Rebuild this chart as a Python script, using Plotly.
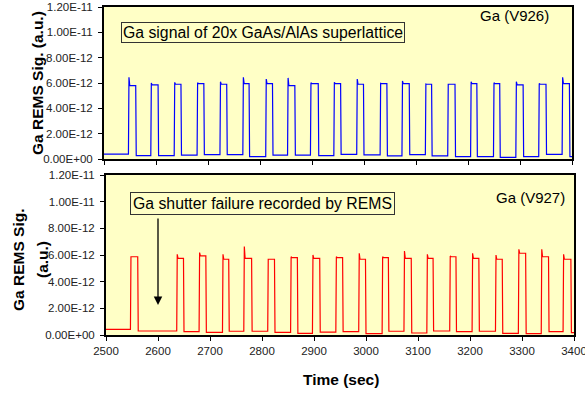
import plotly.graph_objects as go

# ---------------- data (values in units of 1e-12) -------------
top_rise = [2547, 2590, 2635, 2679, 2723, 2767, 2811, 2853, 2897, 2942,
            2986, 3031, 3073, 3118, 3161, 3205, 3249, 3292, 3336, 3381]
top_fall = [2561, 2604, 2648, 2692, 2736, 2779, 2824, 2867, 2912, 2955,
            2999, 3044, 3087, 3130, 3175, 3217, 3261, 3306, 3350, 3395]
top_start = [6.45, 6.00, 6.05, 6.02, 6.10, 6.45, 6.31, 6.40, 6.02, 6.05,
             6.31, 5.97, 6.16, 5.92, 5.90, 6.10, 6.02, 6.10, 5.97, 6.45]
top_end = [5.80, 5.85, 5.90, 5.95, 5.90, 5.95, 5.95, 5.80, 5.95, 5.95,
           5.90, 5.95, 5.95, 5.90, 5.90, 5.95, 5.95, 5.85, 5.90, 5.95]
top_base = [0.38, 0.26, 0.26, 0.30, 0.35, 0.35, 0.18, 0.30, 0.30, 0.26, 0.37,
            0.32, 0.24, 0.35, 0.24, 0.18, 0.18, 0.13, 0.18, 0.37, 0.18]

bot_rise = [2547, 2636, 2679, 2724, 2765, 2811, 2855, 2897, 2942, 2986,
            3031, 3073, 3117, 3161, 3204, 3249, 3293, 3337, 3379]
bot_fall = [2561, 2649, 2692, 2736, 2780, 2824, 2868, 2911, 2955, 2999,
            3043, 3087, 3129, 3173, 3217, 3262, 3307, 3351, 3394]
bot_start = [5.87, 6.05, 6.18, 6.05, 6.63, 5.68, 5.87, 6.00, 5.87, 6.13,
             5.87, 6.30, 6.05, 5.93, 6.13, 6.00, 6.43, 6.43, 6.05]
bot_end = [5.87, 5.75, 5.93, 5.68, 5.75, 5.68, 5.80, 5.75, 5.80, 5.68,
           5.80, 5.75, 5.75, 5.87, 5.75, 5.68, 6.13, 5.87, 5.68]
bot_base = [0.42, 0.30, 0.25, 0.20, 0.28, 0.28, 0.20, 0.12, 0.22, 0.25,
            0.10, 0.28, 0.15, 0.30, 0.25, 0.28, 0.12, 0.10, 0.25, 0.18]

x_range = [2500, 3400]
x_ticks = [2500, 2600, 2700, 2800, 2900, 3000, 3100, 3200, 3300, 3400]
y_ticks = [0, 2e-12, 4e-12, 6e-12, 8e-12, 1e-11, 1.2e-11]
y_ticktext = ["0.00E+00", "2.00E-12", "4.00E-12", "6.00E-12",
              "8.00E-12", "1.00E-11", "1.20E-11"]
scale = 1e-12


def build(rise, fall, start, end, base):
    xs, ys = [x_range[0]], [base[0] * scale]
    for i in range(len(rise)):
        xs += [rise[i], rise[i] + 1, rise[i] + 2.5, fall[i], fall[i] + 1]
        ys += [base[i] * scale, start[i] * scale, end[i] * scale,
               end[i] * scale, base[i + 1] * scale]
    xs.append(x_range[1])
    ys.append(base[-1] * scale)
    return xs, ys


tx, ty = build(top_rise, top_fall, top_start, top_end, top_base)
bx, by = build(bot_rise, bot_fall, bot_start, bot_end, bot_base)

W, H = 585, 394
def px(x): return x / W
def py(y): return 1 - y / H

FONT = "Liberation Sans, Arial, sans-serif"
BG = "#FFFFC6"

fig = go.Figure()
fig.add_trace(go.Scatter(x=tx, y=ty, mode="lines", line=dict(color="#0000FF", width=1.2),
                         xaxis="x", yaxis="y", showlegend=False))
fig.add_trace(go.Scatter(x=bx, y=by, mode="lines", line=dict(color="#FF0000", width=1.2),
                         xaxis="x2", yaxis="y2", showlegend=False))

axis_common = dict(showgrid=False, zeroline=False, showline=True, linecolor="black",
                   linewidth=2, mirror=True, ticks="outside", ticklen=4, tickwidth=1,
                   tickcolor="black", automargin=False, ticklabeloverflow="allow",
                   tickfont=dict(family=FONT, size=11.5, color="#222"))

fig.update_layout(
    width=W, height=H, margin=dict(l=0, r=0, t=0, b=0),
    paper_bgcolor="white", plot_bgcolor=BG,
    font=dict(family=FONT),
    xaxis=dict(domain=[px(104), px(572)], range=x_range, tickvals=x_ticks,
               showticklabels=False, anchor="y", **axis_common),
    yaxis=dict(domain=[py(159), py(7)], range=[0, 1.2e-11], tickvals=y_ticks,
               ticktext=y_ticktext, anchor="x", ticklabelstandoff=3, **axis_common),
    xaxis2=dict(domain=[px(106), px(574)], range=x_range, tickvals=x_ticks,
                anchor="y2", **axis_common),
    yaxis2=dict(domain=[py(335), py(175)], range=[0, 1.2e-11], tickvals=y_ticks,
                ticktext=y_ticktext, anchor="x2", ticklabelstandoff=3, **axis_common),
)

ann = []
# axis titles
ann.append(dict(text="<b>Ga REMS Sig. (a.u.)</b>", x=px(37), y=py(83), xref="paper", yref="paper",
                textangle=-90, showarrow=False, font=dict(size=15.5, color="black"),
                xanchor="center", yanchor="middle"))
ann.append(dict(text="<b>Ga REMS Sig.</b>", x=px(18), y=py(260), xref="paper", yref="paper",
                textangle=-90, showarrow=False, font=dict(size=15.5, color="black"),
                xanchor="center", yanchor="middle"))
ann.append(dict(text="<b>(a.u.)</b>", x=px(42), y=py(260), xref="paper", yref="paper",
                textangle=-90, showarrow=False, font=dict(size=15.5, color="black"),
                xanchor="center", yanchor="middle"))
ann.append(dict(text="<b>Time (sec)</b>", x=px(341), y=py(379), xref="paper", yref="paper",
                showarrow=False, font=dict(size=15.5, color="black"),
                xanchor="center", yanchor="middle"))
# boxed labels
ann.append(dict(text="Ga signal of 20x GaAs/AlAs superlattice", x=px(121), y=py(22),
                xref="paper", yref="paper", xanchor="left", yanchor="top", showarrow=False,
                font=dict(size=15.8, color="black"), bgcolor=BG, bordercolor="#333",
                borderwidth=1, borderpad=1))
ann.append(dict(text="Ga shutter failure recorded by REMS", x=px(130), y=py(192),
                xref="paper", yref="paper", xanchor="left", yanchor="top", showarrow=False,
                font=dict(size=15.8, color="black"), bgcolor=BG, bordercolor="#333",
                borderwidth=1, borderpad=2))
ann.append(dict(text="Ga (V926)", x=px(514), y=py(15), xref="paper", yref="paper",
                xanchor="center", yanchor="middle", showarrow=False,
                font=dict(size=15, color="black")))
ann.append(dict(text="Ga (V927)", x=px(530), y=py(197), xref="paper", yref="paper",
                xanchor="center", yanchor="middle", showarrow=False,
                font=dict(size=15, color="black")))
# arrow
ann.append(dict(text="", x=2600, y=2.25e-12, xref="x2", yref="y2",
                ax=2600, ay=8.85e-12, axref="x2", ayref="y2", showarrow=True,
                arrowhead=2, arrowsize=1.3, arrowwidth=1.3, arrowcolor="black"))

fig.update_layout(annotations=ann)
fig.write_html("out.html",
               post_script="document.body.style.margin='0';document.body.style.overflow='hidden';")
